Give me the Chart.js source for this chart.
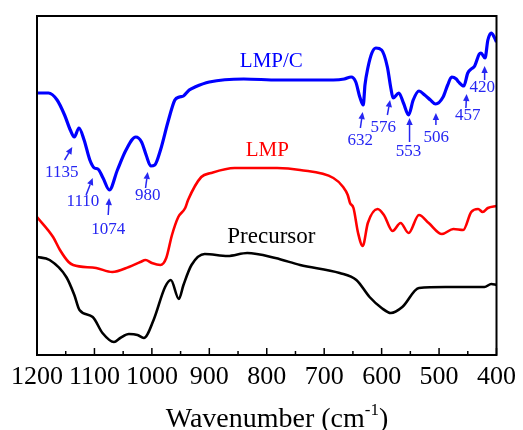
<!DOCTYPE html>
<html>
<head>
<meta charset="utf-8">
<script src="https://cdn.jsdelivr.net/npm/chart.js@4.4.0/dist/chart.umd.min.js"></script>
<style>
  body { margin: 0; background: #fff; }
  #wrap { width: 523px; height: 430px; }
</style>
</head>
<body>
<div id="wrap"><canvas id="ftir" width="523" height="430"></canvas></div>
<script>
// FTIR 스펙트럼 (wavenumber, 투과율 a.u.)
const lmpcWave = [1200, 1180, 1165, 1152, 1142, 1135, 1127, 1118, 1108, 1100, 1094, 1085, 1074, 1060, 1045, 1028, 1018, 1010, 1002, 995, 985, 972, 960, 952, 945, 935, 925, 900, 840, 780, 740, 684, 665, 653, 645, 638, 632, 629, 624, 617, 610, 600, 590, 584, 580, 570, 562, 553, 545, 535, 525, 515, 506, 493, 485, 478, 470, 466, 457, 450, 444, 438, 430, 427, 420, 415, 409, 404, 400];
const lmpcValue = [262, 262, 255, 240, 225, 218, 227, 215, 195, 187, 186, 177, 165, 185, 205, 218, 213, 200, 189, 190, 205, 233, 255, 258, 259, 265, 268, 273, 276, 275, 275, 275, 276, 278, 273, 258, 250, 270, 287, 302, 307, 305, 288, 267, 257, 262, 252, 240, 255, 264, 260, 255, 251, 258, 270, 278, 276, 273, 269, 282, 286, 289, 301, 302, 297, 315, 322, 318, 313];

const lmpWave = [1200, 1172, 1160, 1145, 1137, 1097, 1069, 1040, 1020, 1011, 1000, 985, 975, 965, 954, 942, 937, 914, 897, 856, 811, 782, 742, 684, 667, 659, 655, 649, 641, 633, 624, 607, 596, 581, 567, 553, 535, 518, 495, 475, 458, 444, 432, 424, 415, 400];
const lmpValue = [138, 118, 105, 93, 90, 87, 83, 88, 93, 95, 92, 90, 97, 120, 138, 147, 155, 178, 182, 187, 187, 187, 185, 177, 168, 160, 152, 147, 122, 109, 132, 146, 140, 124, 132, 122, 140, 132, 121, 126, 125, 143, 146, 143, 147, 149];

const precWave = [1200, 1178, 1149, 1135, 1126, 1103, 1086, 1066, 1055, 1040, 1025, 1014, 997, 977, 967, 953, 945, 931, 908, 868, 834, 785, 742, 673, 644, 621, 600, 584, 564, 535, 489, 421, 409, 400];
const precValue = [98, 95, 78, 60, 45, 38, 22, 13, 17, 21, 20, 17, 35, 68, 75, 56, 70, 90, 101, 99, 102, 97, 90, 82, 75, 58, 47, 42, 48, 67, 68, 68, 71, 70];

const xTicks = [1200, 1100, 1000, 900, 800, 700, 600, 500, 400];

// 피크 표시 (라벨 위치, 화살표 꼬리/머리)
const peakText = ['1135', '1110', '1074', '980', '632', '576', '553', '506', '457', '420'];
const peakLabelX = [1157, 1120, 1076, 1007, 637, 597, 553, 505, 450, 425];
const peakLabelY = [182, 153, 125, 159, 214, 227, 203, 217, 239, 267];
const arrowFromX = [1152, 1114.5, 1076, 1011, 637, 590, 551.4, 505.5, 453.3, 420.7];
const arrowFromY = [195, 160, 140, 167, 227, 240, 213, 230, 247, 275];
const arrowToX = [1138.6, 1103, 1074.4, 1007.3, 633, 585.3, 551.4, 505.5, 452, 420.7];
const arrowToY = [208, 177, 157, 183, 243, 255, 237, 242, 261, 289];

const seriesNames = ['LMP/C', 'LMP', 'Precursor'];
const nameX = [792, 799, 792];
const nameY = [288, 199, 112];

const toPoints = (xs, ys) => xs.map((x, i) => ({ x, y: ys[i] }));

const serif = '"Liberation Serif", "Times New Roman", serif';
const peakBlue = '#2626f2';

// 프레임, 안쪽 눈금, 주석
const decorPlugin = {
  id: 'decor',
  afterDatasetsDraw(chart) {
    const { ctx, chartArea: a, scales: { x, y } } = chart;
    ctx.save();

    // 주석 화살표 + 라벨
    ctx.strokeStyle = peakBlue;
    ctx.fillStyle = peakBlue;
    ctx.lineWidth = 1.5;
    peakText.forEach((t, i) => {
      const x0 = x.getPixelForValue(arrowFromX[i]);
      const y0 = y.getPixelForValue(arrowFromY[i]);
      const x1 = x.getPixelForValue(arrowToX[i]);
      const y1 = y.getPixelForValue(arrowToY[i]);
      const ang = Math.atan2(y1 - y0, x1 - x0);
      const hl = 7, hw = 3.2;
      const bx = x1 - hl * Math.cos(ang), by = y1 - hl * Math.sin(ang);
      ctx.beginPath();
      ctx.moveTo(x0, y0);
      ctx.lineTo(bx, by);
      ctx.stroke();
      ctx.beginPath();
      ctx.moveTo(x1, y1);
      ctx.lineTo(bx + hw * Math.sin(ang), by - hw * Math.cos(ang));
      ctx.lineTo(bx - hw * Math.sin(ang), by + hw * Math.cos(ang));
      ctx.closePath();
      ctx.fill();

      ctx.font = '17px ' + serif;
      ctx.textAlign = 'center';
      ctx.textBaseline = 'middle';
      ctx.fillText(t, x.getPixelForValue(peakLabelX[i]), y.getPixelForValue(peakLabelY[i]));
    });

    // 시리즈 이름
    const nameColors = ['#0000ff', '#ff0000', '#000000'];
    const nameSizes = [21, 21, 23];
    seriesNames.forEach((n, i) => {
      ctx.fillStyle = nameColors[i];
      ctx.font = nameSizes[i] + 'px ' + serif;
      ctx.textAlign = 'center';
      ctx.textBaseline = 'alphabetic';
      ctx.fillText(n, x.getPixelForValue(nameX[i]), y.getPixelForValue(nameY[i]));
    });

    // 프레임
    ctx.strokeStyle = '#000';
    ctx.lineWidth = 2;
    ctx.strokeRect(a.left, a.top, a.right - a.left, a.bottom - a.top);

    // 아래쪽 안쪽 눈금 (주 100, 보조 50)
    ctx.lineWidth = 1.5;
    for (let w = 400; w <= 1200; w += 50) {
      const px = x.getPixelForValue(w);
      const len = w % 100 === 0 ? 7 : 4;
      ctx.beginPath();
      ctx.moveTo(px, a.bottom);
      ctx.lineTo(px, a.bottom - len);
      ctx.stroke();
    }

    // x축 제목 (위첨자 포함)
    ctx.fillStyle = '#000';
    ctx.textBaseline = 'alphabetic';
    ctx.textAlign = 'left';
    const main = 'Wavenumber (cm';
    const sup = '-1';
    const tail = ')';
    ctx.font = '28px ' + serif;
    const wMain = ctx.measureText(main).width;
    const wTail = ctx.measureText(tail).width;
    ctx.font = '17px ' + serif;
    const wSup = ctx.measureText(sup).width;
    const total = wMain + wSup + wTail;
    let cx = 277 - total / 2;
    const base = 427;
    ctx.font = '28px ' + serif;
    ctx.fillText(main, cx, base);
    cx += wMain;
    ctx.font = '17px ' + serif;
    ctx.fillText(sup, cx, base - 12);
    cx += wSup;
    ctx.font = '28px ' + serif;
    ctx.fillText(tail, cx, base);

    ctx.restore();
  }
};

new Chart(document.getElementById('ftir'), {
  type: 'line',
  data: {
    datasets: [
      {
        label: 'LMP/C',
        data: toPoints(lmpcWave, lmpcValue),
        borderColor: '#0000ff',
        borderWidth: 3.2
      },
      {
        label: 'LMP',
        data: toPoints(lmpWave, lmpValue),
        borderColor: '#ff0000',
        borderWidth: 2.6
      },
      {
        label: 'Precursor',
        data: toPoints(precWave, precValue),
        borderColor: '#000000',
        borderWidth: 2.6
      }
    ]
  },
  options: {
    responsive: false,
    animation: false,
    layout: { padding: { left: 37, right: 21, top: 16, bottom: 0 } },
    elements: {
      point: { radius: 0 },
      line: { cubicInterpolationMode: 'monotone', fill: false }
    },
    plugins: {
      legend: { display: false },
      tooltip: { enabled: false }
    },
    scales: {
      x: {
        type: 'linear',
        reverse: true,
        min: 400,
        max: 1200,
        afterBuildTicks: (s) => { s.ticks = xTicks.map(v => ({ value: v })); },
        afterFit: (s) => { s.height = 75; },
        grid: { display: false, drawTicks: false },
        border: { display: false },
        ticks: {
          autoSkip: false,
          maxRotation: 0,
          padding: 7,
          color: '#000',
          font: { family: serif, size: 26 },
          callback: (v) => String(v)
        }
      },
      y: {
        display: false,
        min: 0,
        max: 339
      }
    }
  },
  plugins: [decorPlugin]
});
</script>
</body>
</html>
